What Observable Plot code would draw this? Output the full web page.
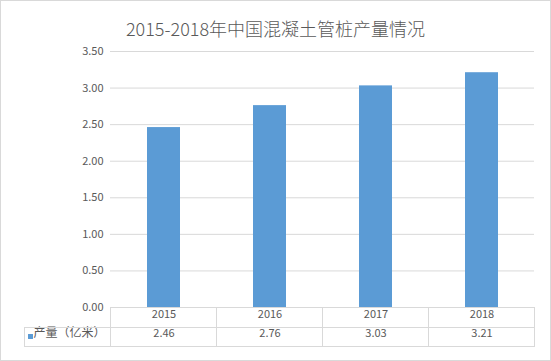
<!DOCTYPE html>
<html><head><meta charset="utf-8">
<script src="https://cdn.jsdelivr.net/npm/d3@7"></script>
<script src="https://cdn.jsdelivr.net/npm/@observablehq/plot@0.6"></script>
<style>
body{margin:0;background:#fff}
#c svg{display:block;outline:1px solid #d9d9d9;outline-offset:-1px}
</style>
</head><body><div id="c"></div>
<script>
const years = ["2015", "2016", "2017", "2018"];
const values = [2.46, 2.76, 3.03, 3.21];
const yTicks = [0, 0.5, 1, 1.5, 2, 2.5, 3, 3.5];
const title = "2015-2018年中国混凝土管桩产量情况";
const seriesName = "产量（亿米）";

const data = years.map((y, i) => ({year: y, value: values[i]}));
const fmt = d3.format(".2f");
const font = "'Noto Sans CJK SC','Noto Sans',sans-serif";
const blue = "#5b9bd5";
const txt = "#595959";
const line = "#d9d9d9";

const chart = Plot.plot({
  width: 551, height: 361,
  marginLeft: 110, marginRight: 17, marginTop: 51, marginBottom: 54,
  style: {fontFamily: font, fontSize: "11px", color: txt, background: "#fff", overflow: "visible"},
  x: {domain: years, paddingInner: 0.69, paddingOuter: 0.345, axis: null},
  y: {domain: [0, 3.5], label: null, axis: null},
  marks: [
    Plot.gridY(yTicks, {stroke: line, strokeOpacity: 1}),
    Plot.barY(data, {x: "year", y: "value", fill: blue}),
    Plot.axisY(yTicks, {tickFormat: fmt, tickSize: 0, tickPadding: 7, fontSize: 11, fill: txt, label: null}),
    Plot.text(data, {x: "year", text: "year", frameAnchor: "bottom", dy: 10, fontSize: 11, fill: txt}),
    Plot.text(data, {x: "year", text: d => fmt(d.value), frameAnchor: "bottom", dy: 29, fontSize: 11, fill: txt}),
    Plot.text([seriesName], {text: d => d, frameAnchor: "bottom-left", dx: -77, dy: 29, textAnchor: "start", fontSize: 12, fill: txt}),
    Plot.dot([seriesName], {frameAnchor: "bottom-left", dx: -80, dy: 29, symbol: "square", r: 2.8, fill: blue, stroke: "none"}),
    Plot.text([title], {text: d => d, frameAnchor: "top-left", dx: 165, dy: -28, textAnchor: "middle", fontSize: 18, fontWeight: 300, fill: txt})
  ]
});

// data-table grid lines, positioned from Plot's x scale
const sx = chart.scale("x");
const step = sx.step;
const x0 = sx.apply(years[0]) + sx.bandwidth / 2 - step / 2;
const x1 = x0 + step * years.length;
const yTop = 307, yMid = 327, yBot = 346, xLeg = 24;
const g = d3.select(chart).append("g").attr("stroke", line).attr("shape-rendering", "crispEdges");
const segs = [
  [x0, yTop, x1, yTop],
  [xLeg, yMid, x1, yMid],
  [xLeg, yBot, x1, yBot],
  [xLeg, yMid, xLeg, yBot]
];
for (let i = 0; i <= years.length; i++) segs.push([x0 + i * step, yTop, x0 + i * step, yBot]);
for (const [a, b, c, d] of segs) g.append("line").attr("x1", a).attr("y1", b).attr("x2", c).attr("y2", d);

document.getElementById("c").appendChild(chart);
</script>
</body></html>
